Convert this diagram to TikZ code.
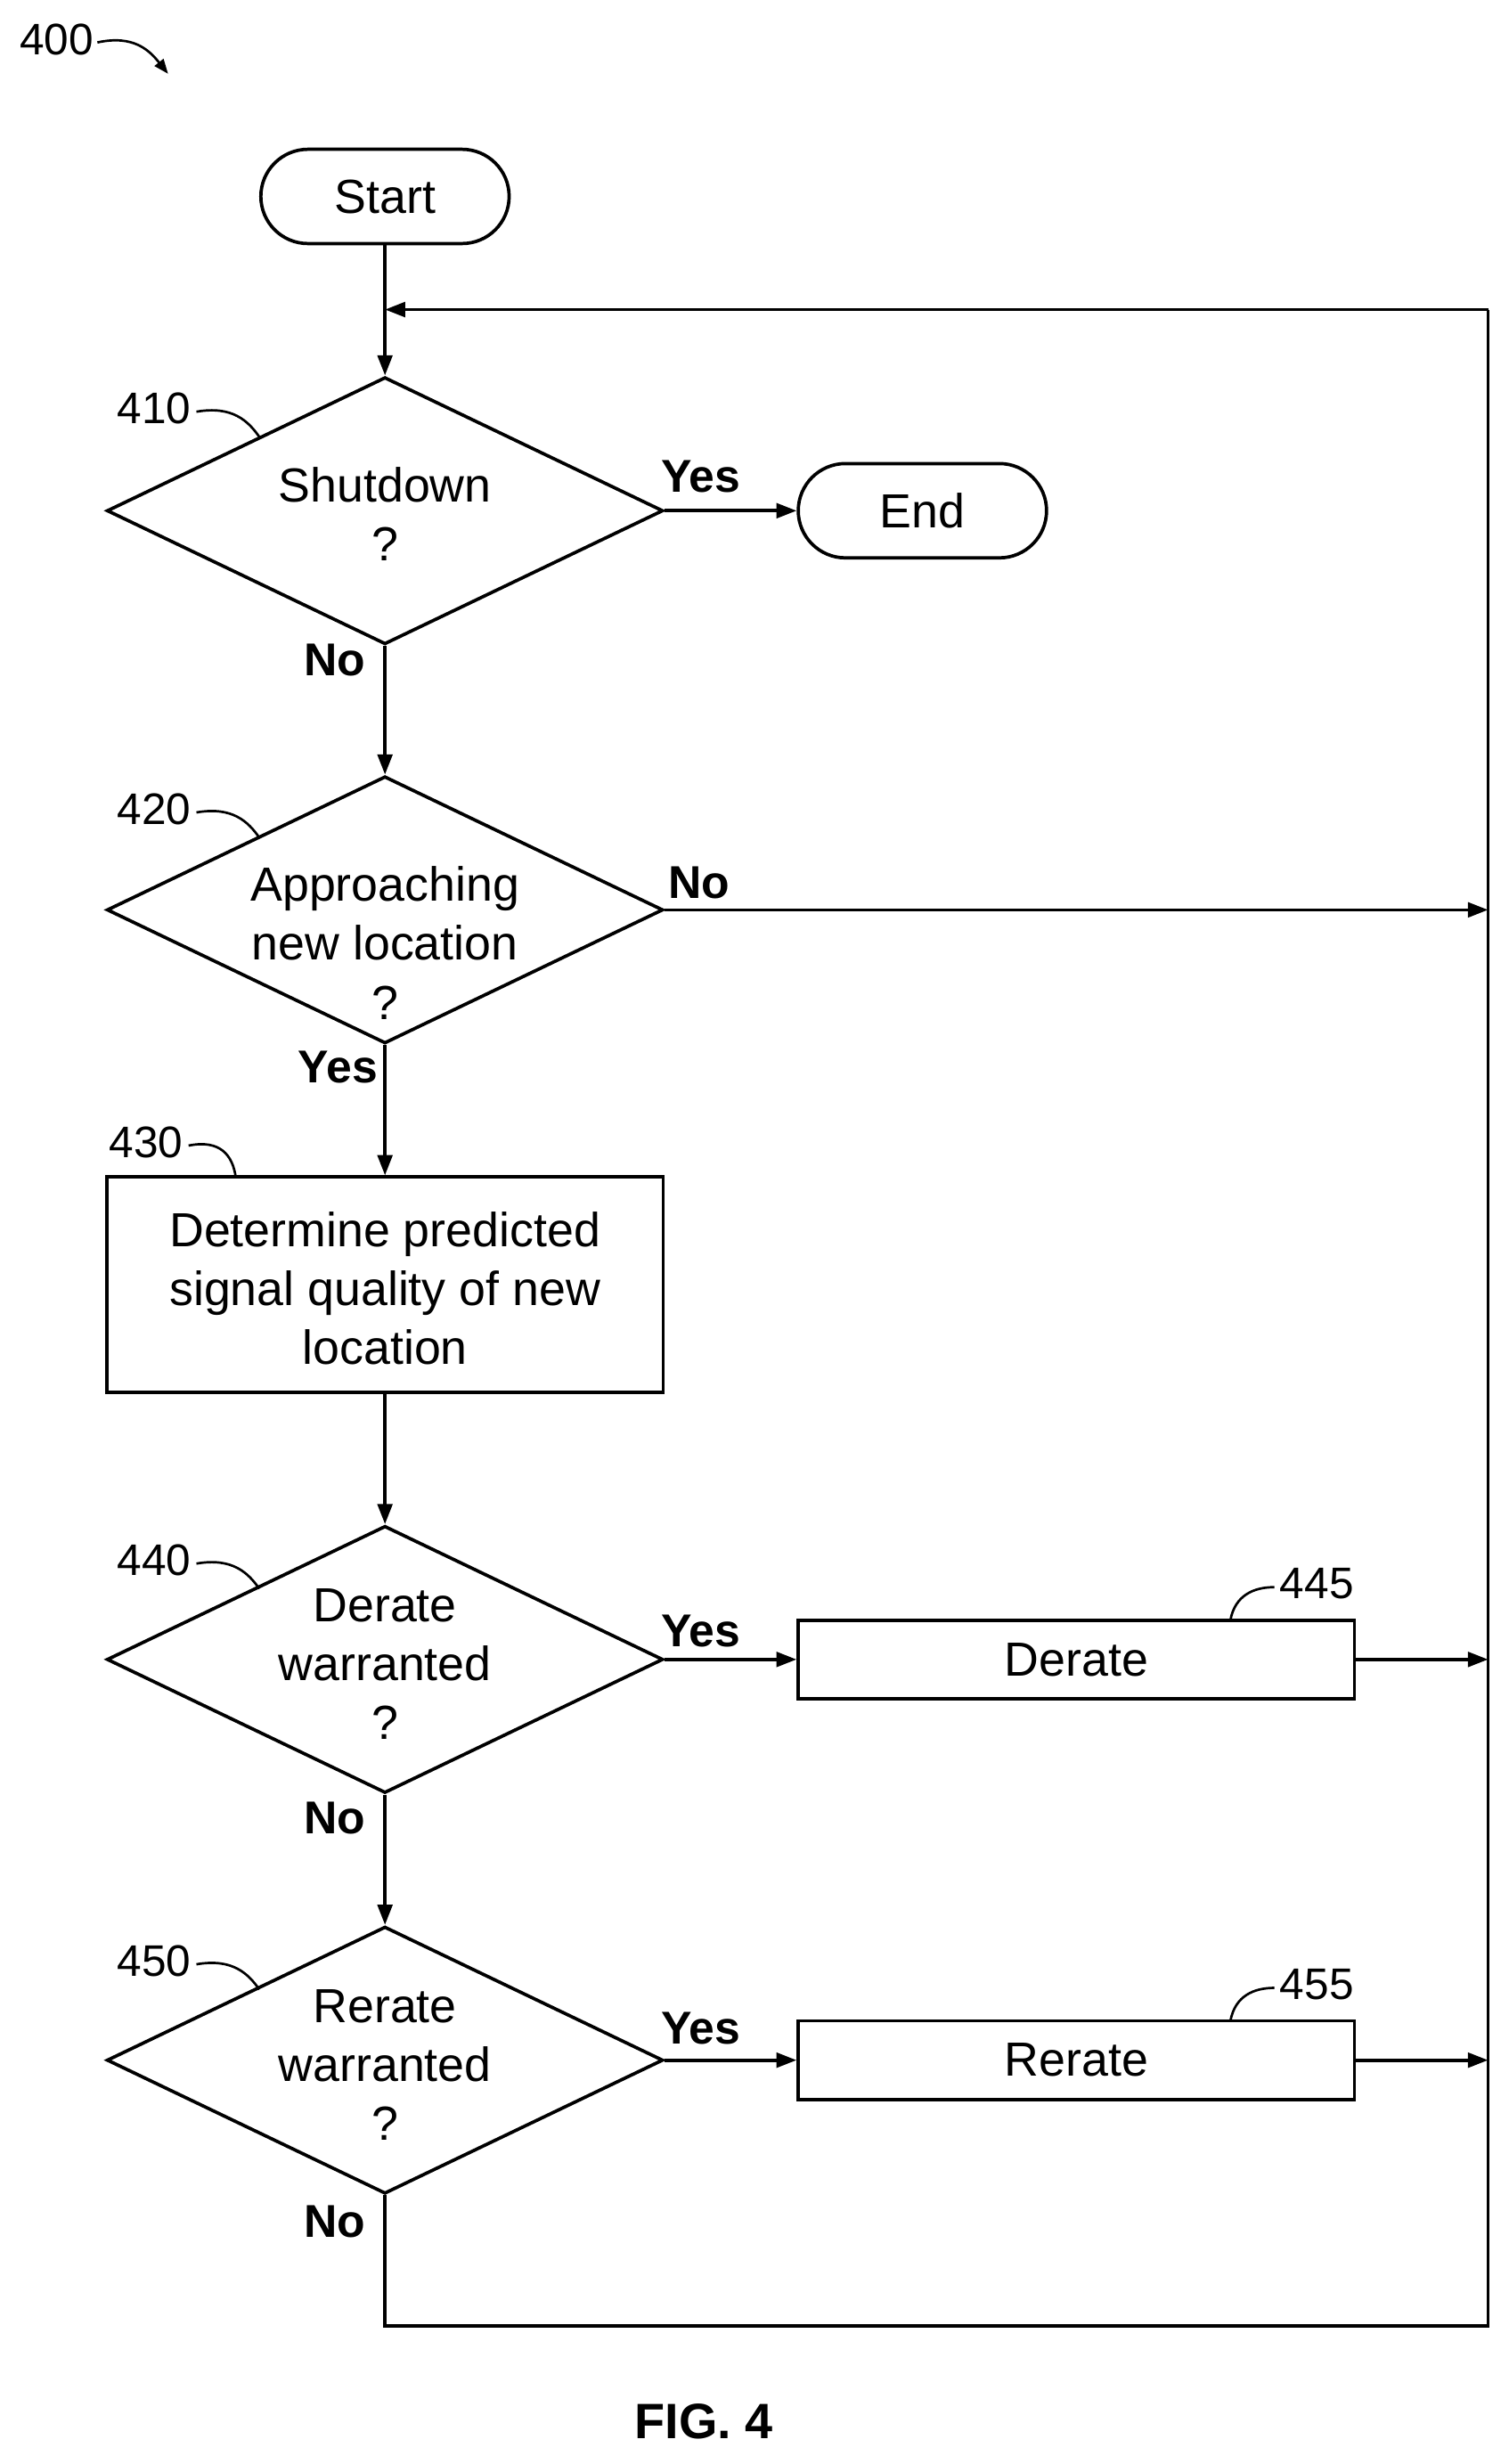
\documentclass[tikz,border=0pt]{standalone}
\usepackage{fontspec}
\setmainfont{Liberation Sans}
\usetikzlibrary{shapes.geometric,arrows.meta}
\begin{document}
\begin{tikzpicture}[x=0.03cm,y=-0.03cm,
  every node/.style={font=\fontsize{26}{32}\selectfont},
  ln/.style={line width=1.8pt},
  ar/.style={ln,-{Triangle[length=11pt,width=8pt]}},
  term/.style={draw,line width=1.8pt,rounded corners=0.9cm,minimum width=4.74cm,minimum height=1.8cm,inner sep=0},
  dec/.style={draw,line width=1.8pt,diamond,aspect=2.0824,minimum width=10.62cm,minimum height=5.1cm,inner sep=0,align=center},
  box/.style={draw,line width=1.8pt,inner sep=0,align=center},
  txt/.style={align=center,inner sep=0},
  lab/.style={font=\fontsize{25}{27}\bfseries\selectfont},
  ref/.style={font=\fontsize{24}{26}\selectfont}]
\useasboundingbox (0,0) rectangle (960,1568);
\node[term] (start) at (245,125) {Start};
\node[dec] (d410) at (245,325) {};
\node[txt] (t410) at (245,327) {Shutdown\\?};
\node[term] (end) at (587,325) {End};
\node[dec] (d420) at (245,579) {};
\node[txt] (t420) at (245,600) {Approaching\\new location\\?};
\node[box,minimum width=10.62cm,minimum height=4.11cm] (b430) at (245,817.5) {};
\node[txt] (t430) at (245,820) {Determine predicted\\signal quality of new\\location};
\node[dec] (d440) at (245,1056) {};
\node[txt] (t440) at (245,1059) {Derate\\warranted\\?};
\node[box,minimum width=10.62cm,minimum height=1.5cm] (b445) at (685,1056) {Derate};
\node[dec] (d450) at (245,1311) {};
\node[txt] (t450) at (245,1314) {Rerate\\warranted\\?};
\node[box,minimum width=10.62cm,minimum height=1.5cm] (b455) at (685,1311) {Rerate};
\coordinate (top) at (947,197);
\coordinate (j) at (245,197);
\coordinate (bl) at (245,1480);
\coordinate (br) at (947,1480);
\coordinate (r420) at (947,579);
\coordinate (r445) at (947,1056);
\coordinate (r455) at (947,1311);
\draw[ar] (start) -- (d410.north);
\draw[ar] (d410.east) -- (end.west);
\node[lab] at (446,303) {Yes};
\draw[ar] (d410.south) -- (d420.north);
\node[lab] at (213,420) {No};
\draw[ar] (d420.east) -- (r420);
\node[lab] at (445,562) {No};
\draw[ar] (d420.south) -- (b430.north);
\node[lab] at (215,679) {Yes};
\draw[ar] (b430.south) -- (d440.north);
\draw[ar] (d440.east) -- (b445.west);
\node[lab] at (446,1038) {Yes};
\draw[ar] (b445.east) -- (r445);
\draw[ar] (d440.south) -- (d450.north);
\node[lab] at (213,1157) {No};
\draw[ar] (d450.east) -- (b455.west);
\node[lab] at (446,1291) {Yes};
\draw[ar] (b455.east) -- (r455);
\node[lab] at (213,1414) {No};
\draw[ln] (d450.south) -- (bl) -- (br) -- (top);
\draw[ar] (top) -- (j);
\node[ref] (n400) at (36,25) {400};
\draw[line width=1.3pt,-{Triangle[length=8pt,width=6pt]}] (62,27) .. controls (85,22) and (95,32) .. (107,47);
\node[ref] (n410) at (98,260) {410};
\draw[line width=1.3pt] (125,262) .. controls (148,258) and (158,268) .. (165,278);
\node[ref] (n420) at (98,515) {420};
\draw[line width=1.3pt] (125,517) .. controls (148,513) and (158,523) .. (165,533);
\node[ref] (n430) at (93,727) {430};
\draw[line width=1.3pt] (120,729) .. controls (140,725) and (148,735) .. (150,749);
\node[ref] (n440) at (98,993) {440};
\draw[line width=1.3pt] (125,995) .. controls (148,991) and (158,1001) .. (165,1011);
\node[ref] (n450) at (98,1248) {450};
\draw[line width=1.3pt] (125,1250) .. controls (148,1246) and (158,1256) .. (165,1266);
\node[ref] (n445) at (838,1008) {445};
\draw[line width=1.3pt] (783,1031) .. controls (786,1015) and (798,1010) .. (811,1010);
\node[ref] (n455) at (838,1263) {455};
\draw[line width=1.3pt] (783,1286) .. controls (786,1270) and (798,1265) .. (811,1265);
\node[font=\fontsize{27}{29}\bfseries\selectfont] (fig) at (448,1541) {FIG. 4};
\end{tikzpicture}
\end{document}
